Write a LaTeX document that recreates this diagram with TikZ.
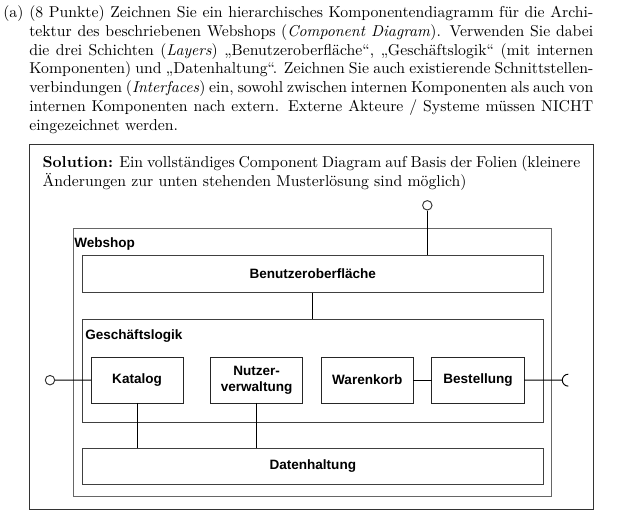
\documentclass[tikz,border=0pt]{standalone}
\usepackage{fontspec}
\newfontfamily\diagfont{Liberation Sans}
\usetikzlibrary{positioning}

\begin{document}
\begin{tikzpicture}[x=0.635pt, y=-0.635pt,
    diag/.style={font=\diagfont\bfseries\fontsize{8.6}{10.4}\selectfont},
    comp/.style={rectangle, draw=black!85, line width=0.6pt, align=center, inner sep=1pt, outer sep=0pt, minimum width=58.5pt, minimum height=29pt, anchor=north west, diag},
    layer/.style={rectangle, draw=black!75, line width=0.6pt, minimum width=292.5pt, anchor=north west, inner sep=0pt, diag},
    iface/.style={circle, draw=black!80, line width=0.6pt, minimum size=6pt, inner sep=0pt},
    lbl/.style={anchor=base west, inner sep=0pt}]
    \useasboundingbox (0,0) rectangle (622,522);

    % task text
    \node [lbl] (item) at (3,17.3) {(a)};
    \node [lbl, text width=358.1pt, align=justify] (task) at (29,17.3) {(8 Punkte) Zeichnen Sie ein hierarchisches Komponentendiagramm für die Archi-\linebreak tektur des beschriebenen Webshops (\textit{Component Diagram}). Verwenden Sie dabei\linebreak die drei Schichten (\textit{Layers}) „Benutzeroberfläche“, „Geschäftslogik“ (mit internen\linebreak Komponenten) und „Datenhaltung“. Zeichnen Sie auch existierende Schnittstellen-\linebreak verbindungen (\textit{Interfaces}) ein, sowohl zwischen internen Komponenten als auch von\linebreak internen Komponenten nach extern. Externe Akteure / Systeme müssen NICHT\linebreak eingezeichnet werden.};

    % solution frame
    \node [rectangle, draw=black!80, line width=0.6pt, anchor=north west, minimum width=358pt, minimum height=231.6pt] (frame) at (29.3,144.3) {};
    \node [lbl, text width=341.5pt, align=justify] (sol) at (42.3,167.3) {\textbf{Solution:} Ein vollständiges Component Diagram auf Basis der Folien (kleinere\linebreak Änderungen zur unten stehenden Musterlösung sind möglich)};

    % webshop with layers
    \node [rectangle, draw=black!60, line width=0.8pt, anchor=north west, minimum width=303.7pt, minimum height=170.3pt] (webshop) at (72.7,227.5) {};
    \node [lbl, diag] (wslabel) at (74,247.3) {Webshop};
    \node [layer, minimum height=23.3pt] (bo) at (82,255.3) {Benutzeroberfläche};
    \node [layer, minimum height=65.4pt] (gl) at (82,319) {};
    \node [lbl, diag] (gllabel) at (85,339) {Geschäftslogik};
    \node [layer, minimum height=23.05pt] (dh) at (82,447.7) {Datenhaltung};

    % internal components
    \node [comp] (katalog) at (91,357.3) {Katalog};
    \node [comp, right=17.4pt of katalog] (nutzer) {Nutzer-\\verwaltung};
    \node [comp, right=11.8pt of nutzer] (warenkorb) {Warenkorb};
    \node [comp, right=11.8pt of warenkorb] (bestellung) {Bestellung};

    % interfaces
    \node [iface] (provided) at (427.3,205.3) {};
    \node [iface] (katif) at (50,380.15) {};
    \coordinate (reqif) at (562.3,380.15);

    \draw [line width=0.6pt] (bo.south) -- (bo.south |- gl.north);
    \draw [line width=0.6pt] (katalog.south) -- (katalog.south |- dh.north);
    \draw [line width=0.6pt] (nutzer.south) -- (nutzer.south |- dh.north);
    \draw [line width=0.6pt] (warenkorb) -- (bestellung);
    \draw [line width=0.6pt] (katif) -- (katalog);
    \draw [line width=0.6pt] (provided) -- (provided |- bo.north);
    \draw [line width=0.6pt] (bestellung) -- (reqif);
    \draw [line width=0.6pt] ([xshift=3.8pt, yshift=3.8pt]reqif) arc [start angle=90, end angle=270, radius=3.8pt]; % socket
\end{tikzpicture}
\end{document}
